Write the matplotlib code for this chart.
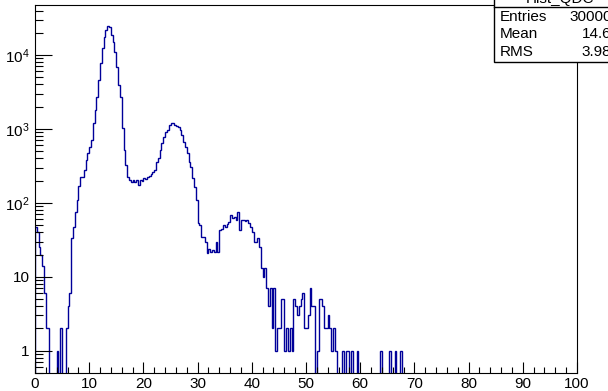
"""
ROOT-style QDC histogram (log y) with a stats box.
"""

import numpy as np
import matplotlib.pyplot as plt
from matplotlib.patches import Rectangle
from matplotlib.lines import Line2D
from matplotlib.ticker import MultipleLocator, LogLocator, FuncFormatter

plt.rcParams['font.family'] = ['Liberation Sans', 'DejaVu Sans']
plt.rcParams['mathtext.fontset'] = 'custom'
plt.rcParams['mathtext.rm'] = 'Liberation Sans'

# histogram: 300 bins over 0..100, only the first 203 bins have entries
x_min, x_max, n_bins = 0, 100, 300
counts = [
    47, 40, 25, 20, 14, 6, 2, 2, 0, 0,                        # 0
    0, 0, 1, 0, 2, 0, 0, 2, 4, 6,                             # 10
    33, 47, 75, 110, 170, 225, 225, 280, 380, 470,            # 20
    570, 710, 1200, 1800, 2700, 4600, 7700, 12500, 17500, 22000,   # 30
    24600, 24000, 18500, 15000, 11000, 6900, 3900, 2700, 1030, 520,  # 40
    330, 225, 205, 190, 205, 190, 205, 175, 205, 195,         # 50
    220, 210, 225, 230, 245, 265, 280, 360, 400, 520,         # 60
    640, 780, 920, 980, 1120, 1200, 1200, 1130, 1100, 1070,   # 70
    970, 820, 670, 570, 470, 360, 310, 220, 165, 110,         # 80
    54, 50, 35, 35, 30, 21, 24, 22, 23, 22,                   # 90
    30, 22, 43, 45, 50, 47, 52, 56, 69, 62,                   # 100
    64, 58, 75, 43, 59, 59, 57, 59, 54, 47,                   # 110
    40, 30, 30, 34, 25, 13, 10, 13, 7, 4,                     # 120
    7, 2, 7, 1, 2, 2, 5, 5, 1, 2,                             # 130
    1, 2, 1, 5, 4, 3, 4, 5, 6, 2,                             # 140
    2, 3, 7, 4, 4, 0, 1, 5, 5, 4,                             # 150
    2, 2, 3, 2, 1, 2, 1, 0, 0, 0,                             # 160
    1, 0, 1, 1, 0, 1, 0, 0, 1, 0,                             # 170
    0, 0, 0, 0, 0, 0, 0, 0, 0, 0,                             # 180
    0, 1, 0, 0, 0, 0, 1, 0, 0, 1,                             # 190
    0, 0, 1,                                                  # 200
]

hist_name = "Hist_QDC"
stat_labels = ["Entries", "Mean", "RMS"]
stat_values = ["300000", "14.65", "3.982"]

W, H = 608, 391
fig = plt.figure(figsize=(W / 100, H / 100), dpi=100)
ax = fig.add_axes([35 / W, 1 - 373 / H, (577 - 35) / W, (373 - 5) / H])

bin_width = (x_max - x_min) / n_bins
edges = x_min + bin_width * np.arange(len(counts) + 1)
ax.stairs(counts, edges, color='#000099', lw=1.0)

ax.set_yscale('log')
ax.set_xlim(x_min, x_max)
ax.set_ylim(0.5, 4.75e4)

# ROOT-ish axes: ticks inside, only on left and bottom
ax.xaxis.set_major_locator(MultipleLocator(10))
ax.xaxis.set_minor_locator(MultipleLocator(2))
ax.yaxis.set_major_locator(LogLocator(base=10))
ax.yaxis.set_minor_locator(LogLocator(base=10, subs=np.arange(2, 10)))


def log_label(v, pos):
    e = int(round(np.log10(v)))
    if e == 0:
        return "1"
    if e == 1:
        return "10"
    return r"$\mathregular{10^{%d}}$" % e


ax.yaxis.set_major_formatter(FuncFormatter(log_label))
ax.yaxis.set_minor_formatter(FuncFormatter(lambda v, p: ""))

ax.tick_params(axis='x', which='major', direction='in', length=8, width=0.8,
               labelsize=11, pad=3, top=False)
ax.tick_params(axis='x', which='minor', direction='in', length=4, width=0.8, top=False)
ax.tick_params(axis='y', which='major', direction='in', length=12, width=0.8,
               labelsize=11, pad=4, right=False)
ax.tick_params(axis='y', which='minor', direction='in', length=6, width=0.8, right=False)
for s in ax.spines.values():
    s.set_linewidth(0.8)

# stats box, partly outside the canvas like the original
bx0, bx1, by_top, by_sep, by_bot = 494, 626, -60, 7, 62
fig.add_artist(Rectangle((bx0 / W, 1 - by_bot / H), (bx1 - bx0) / W, (by_bot - by_top) / H,
                         transform=fig.transFigure, facecolor='white',
                         edgecolor='black', lw=1.0, zorder=5))
fig.add_artist(Line2D([bx0 / W, bx1 / W], [1 - by_sep / H, 1 - by_sep / H],
                      transform=fig.transFigure, color='black', lw=1.0, zorder=6))
fig.text((bx0 + bx1) / 2 / W, 1 - 2.5 / H, hist_name, ha='center', va='baseline',
         fontsize=11, zorder=7)
for i, (lab, val) in enumerate(zip(stat_labels, stat_values)):
    yc = 1 - (17 + 17.5 * i) / H
    fig.text(500 / W, yc, lab, ha='left', va='center', fontsize=11, zorder=7)
    fig.text(620 / W, yc, val, ha='right', va='center', fontsize=11, zorder=7)

fig.savefig('out.png', dpi=100)
